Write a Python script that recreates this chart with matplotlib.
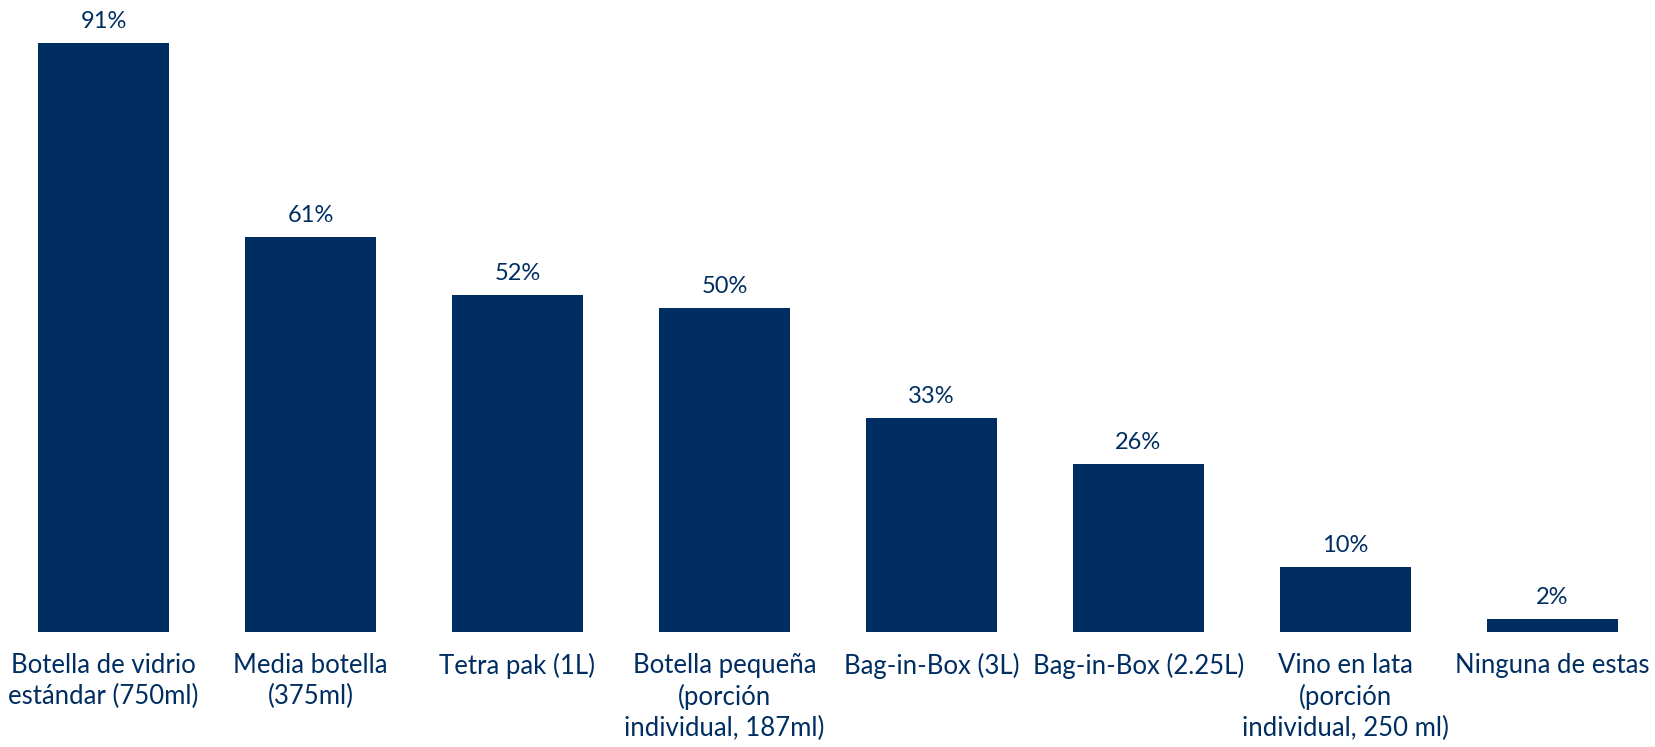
import matplotlib
matplotlib.use("Agg")
import matplotlib.pyplot as plt

plt.rcParams["font.family"] = ["Lato", "DejaVu Sans"]

categories = [
    "Botella de vidrio\nestándar (750ml)",
    "Media botella\n(375ml)",
    "Tetra pak (1L)",
    "Botella pequeña\n(porción\nindividual, 187ml)",
    "Bag-in-Box (3L)",
    "Bag-in-Box (2.25L)",
    "Vino en lata\n(porción\nindividual, 250 ml)",
    "Ninguna de estas",
]
values = [91, 61, 52, 50, 33, 26, 10, 2]

NAVY = "#002E62"

fig = plt.figure(figsize=(16.56, 7.47), dpi=100)
ax = fig.add_axes([0.0, 0.154, 1.0, 0.823])

x = range(len(values))
bars = ax.bar(x, values, width=0.637, color=NAVY)
for b, v in zip(bars, values):
    ax.annotate(f"{v}%", xy=(b.get_x() + b.get_width() / 2, v),
                xytext=(0, 8), textcoords="offset points",
                ha="center", va="bottom", fontsize=17, color=NAVY,
                annotation_clip=False)

ax.set_xlim(-0.5, len(values) - 0.5)
ax.set_ylim(0, 95)
ax.set_xticks(list(x))
ax.set_xticklabels(categories, fontsize=18.5, color=NAVY, linespacing=1.3)
ax.tick_params(axis="x", length=0, pad=15)
ax.set_yticks([])
for s in ax.spines.values():
    s.set_visible(False)

fig.savefig("out.png", dpi=100)
